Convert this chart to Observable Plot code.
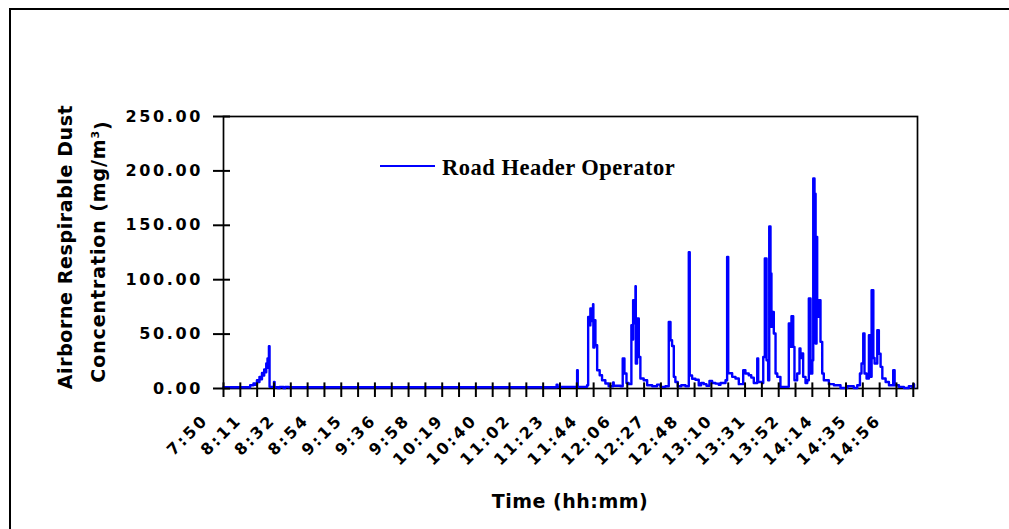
<!DOCTYPE html>
<html>
<head>
<meta charset="utf-8">
<script src="https://cdn.jsdelivr.net/npm/d3@7"></script>
<script src="https://cdn.jsdelivr.net/npm/@observablehq/plot@0.6"></script>
<style>
  html, body { margin: 0; padding: 0; background: #fff; overflow: hidden; }
  #chart { position: relative; width: 1009px; height: 529px; overflow: hidden; background: #fff; }
  #chart svg { display: block; position: relative; z-index: 1; background: transparent !important; }
  #outer-border { position: absolute; left: 8.5px; top: 7.5px; width: 3000px; height: 3000px;
                  border: 2px solid #000; box-sizing: border-box; z-index: 0; }
</style>
</head>
<body>
<div id="chart"><div id="outer-border"></div></div>
<script>
// ---- data (time in minutes after midnight, concentration in mg/m3) ----
const sampleMinutes = [
  470.0, 486.0, 486.9, 489.0, 490.0, 491.2, 492.0, 492.8, 493.5, 494.4, 495.0, 495.8, 496.4, 497.1, 497.5, 497.9, 498.3, 498.8, 499.2,
  501.7, 502.0, 502.4, 504.7, 505.5, 507.0, 508.1, 509.1, 511.2, 540, 580, 620, 660,
  681.2, 681.8, 694.2, 694.6, 700.5,
  701.2, 702.0, 702.6, 703.3, 704.3, 704.5, 705.2, 705.8, 706.9, 708.5, 710.0, 712.1, 714.2,
  717.0, 717.4, 718.0, 721.7, 723.1, 724.2, 725.5, 726.9,
  728.6, 729.3, 729.7, 730.3, 731.2, 731.4, 732.2, 733.3, 734.3, 736.4, 738.6, 741.8, 744.9, 747.0, 750.2,
  752.3, 753.4, 754.4, 755.5, 756.5, 758.0, 760.2, 762.9,
  765.0, 765.6, 767.1, 769.2, 771.3, 772.8, 774.5, 776.2, 778.1, 779.8, 781.9, 784.0, 785.1, 788.3,
  789.3, 790.0, 792.5, 794.6, 796.7, 799.5, 800.9, 803.0, 804.6, 806.2, 808.4, 809.0, 811.5,
  812.2, 813.2, 814.3, 815.3, 816.0, 816.8, 817.4, 818.3, 818.9, 820.0, 821.1, 823.1, 826.3,
  828.4, 829.5, 830.1, 831.2, 832.0, 833.7, 835.2, 835.8, 836.5, 837.5, 839.0, 840.1,
  841.1, 842.2, 843.3, 843.9, 844.7, 845.4, 846.0, 846.4, 847.4, 848.5, 849.6, 850.6, 853.8, 857.0,
  861.2, 865.5, 869.6, 871.8, 873.5, 874.5, 875.6, 876.4, 877.7, 879.2, 880.2, 880.9, 882.0, 882.8,
  884.5, 885.5, 886.6, 887.7, 889.8, 891.9, 894.6, 895.5, 898.2, 901.4, 904.5, 906.7, 907.3, 907.8
];
const dustConc = [
  1.2, 1.2, 3.0, 4.6, 3.5, 7.6, 6.0, 10.7, 8.5, 14.3, 12.0, 17.5, 15.0, 23.0, 19.0, 27.6, 24.0, 38.9, 1.5,
  1.5, 6.0, 1.2, 0.3, 1.5, 1.5, 0.3, 1.5, 1.2, 1.2, 1.2, 1.2, 1.2,
  3.6, 1.5, 16.8, 1.5, 3.0,
  65.8, 58.0, 73.5, 62.0, 77.5, 37.7, 62.8, 39.8, 16.8, 12.2, 7.6, 4.6, 2.1,
  5.5, 2.5, 2.5, 2.1, 27.6, 13.8, 5.0, 4.0,
  58.2, 45.0, 81.2, 60.0, 94.0, 23.0, 64.3, 29.0, 9.2, 7.6, 3.0, 2.1, 3.6, 1.5, 2.0,
  61.2, 44.4, 39.0, 10.7, 6.0, 2.1, 3.0, 2.1,
  125.3, 12.0, 9.0, 8.0, 3.0, 5.0, 4.0, 2.5, 7.0, 5.0, 4.5, 3.5, 5.1, 7.6,
  121.0, 14.0, 10.7, 9.2, 4.0, 16.8, 13.8, 12.2, 10.0, 5.1, 27.6, 6.0, 5.0,
  29.0, 119.5, 26.0, 7.6, 149.0, 105.7, 56.6, 70.4, 50.5, 13.8, 10.7, 1.5, 1.5,
  59.7, 38.3, 66.5, 38.3, 7.6, 13.8, 36.8, 28.0, 32.2, 10.7, 5.1, 7.6,
  82.7, 13.8, 26.0, 193.0, 179.0, 41.4, 139.4, 65.8, 81.2, 42.9, 13.8, 7.6, 4.0, 3.0,
  0.5, 2.1, 0.5, 3.0, 13.8, 23.0, 50.5, 13.8, 9.2, 49.0, 10.7, 90.4, 28.0, 23.0,
  53.6, 32.0, 19.9, 9.2, 6.0, 3.0, 16.8, 3.0, 1.5, 0.5, 2.1, 1.0, 4.0, 1.0
];
const xTickLabels = ["7:50", "8:11", "8:32", "8:54", "9:15", "9:36", "9:58", "10:19", "10:40", "11:02", "11:23",
  "11:44", "12:06", "12:27", "12:48", "13:10", "13:31", "13:52", "14:14", "14:35", "14:56"];
const yTickValues = [0, 50, 100, 150, 200, 250];
const seriesName = "Road Header Operator";
const xTitle = "Time (hh:mm)";
const yTitleLine1 = "Airborne Respirable Dust";
const yTitleLine2 = "Concentration (mg/m";
const yTitleSup = "3";
const yTitleEnd = ")";

// ---- derived tables ----
const startMinute = 470;          // 7:50
const tickStepMinutes = 640 / 60; // one tick every 10 min 40 s
const tickMinutes = d3.range(42).map(k => startMinute + k * tickStepMinutes);
const labelRows = xTickLabels.map((label, i) => ({t: tickMinutes[2 * i], label}));
const rows = sampleMinutes.map((t, i) => ({t, v: dustConc[i]}));

const chart = Plot.plot({
  width: 1009,
  height: 529,
  marginLeft: 223,
  marginRight: 92,
  marginTop: 116,
  marginBottom: 141,
  style: {fontFamily: "'DejaVu Sans', sans-serif", fontWeight: "bold", fontSize: "16px", color: "#000", background: "transparent"},
  x: {domain: [470, 910], axis: null},
  y: {domain: [0, 250], axis: null},
  marks: [
    Plot.frame({stroke: "#000", strokeWidth: 1.7}),
    Plot.line(rows, {x: "t", y: "v", stroke: "#0000ff", strokeWidth: 2.4, curve: "step-after"}),
    Plot.axisY({ticks: yTickValues, tickSize: 17, dx: 7, tickPadding: 10.6, strokeWidth: 2,
      tickFormat: d3.format(".2f"), fontSize: 16, label: null}),
    Plot.axisX({ticks: tickMinutes, tickSize: 14.6, dy: -5.6, strokeWidth: 2,
      tickFormat: () => "", label: null}),
    Plot.text(labelRows, {x: "t", text: "label", frameAnchor: "bottom", rotate: -45,
      textAnchor: "end", lineAnchor: "middle", dx: -18, dy: 29, fontSize: 16})
  ]
});

document.getElementById("chart").appendChild(chart);
const svg = d3.select(chart);
// spaced-out tick lettering, as in the original
svg.selectAll("text")
  .filter(function() { return /^[0-9.:]+$/.test(this.textContent.trim()); })
  .style("letter-spacing", "2.6px");

// x title
svg.append("text")
  .attr("x", 570).attr("y", 508).attr("text-anchor", "middle")
  .style("font", "bold 19px 'DejaVu Sans'").style("letter-spacing", "0.5px")
  .attr("fill", "#000").text(xTitle);

// y title (two lines)
svg.append("text")
  .attr("transform", "translate(71.7,247) rotate(-90)")
  .attr("text-anchor", "middle")
  .style("font", "bold 19px 'DejaVu Sans'").style("letter-spacing", "0.6px")
  .attr("fill", "#000").text(yTitleLine1);
const t2 = svg.append("text")
  .attr("transform", "translate(105,251.5) rotate(-90)")
  .attr("text-anchor", "middle")
  .style("font", "bold 19px 'DejaVu Sans'").style("letter-spacing", "0.9px")
  .attr("fill", "#000");
t2.append("tspan").text(yTitleLine2);
t2.append("tspan").attr("dy", "-0.55em").style("font-size", "11px").text(yTitleSup);
t2.append("tspan").attr("dy", "0.55em").text(yTitleEnd);

// legend
svg.append("line").attr("x1", 380).attr("x2", 435).attr("y1", 166).attr("y2", 166)
  .attr("stroke", "#0000ff").attr("stroke-width", 2);
svg.append("text").attr("x", 442).attr("y", 175).attr("text-anchor", "start")
  .style("font", "bold 22.5px 'Liberation Serif'").style("letter-spacing", "0.5px")
  .attr("fill", "#000").text(seriesName);
</script>
</body>
</html>
